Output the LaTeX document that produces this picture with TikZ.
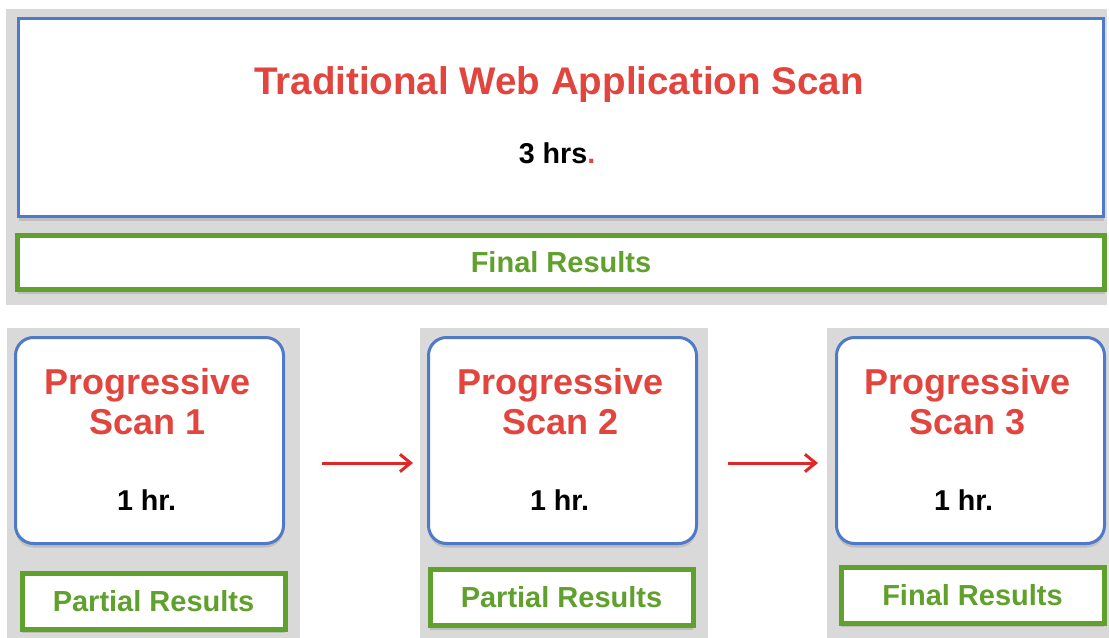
\documentclass[tikz,border=0pt]{standalone}
\usepackage{fontspec}
\setmainfont{Liberation Sans}
\usetikzlibrary{arrows.meta,shadows}

\newdimen\px \px=0.75pt

\definecolor{scanred}{RGB}{226,68,62}
\definecolor{arrowred}{RGB}{222,40,40}
\definecolor{resgreen}{RGB}{96,160,44}
\definecolor{boxblue}{RGB}{78,122,200}
\definecolor{panelgrey}{RGB}{217,217,217}

\tikzset{
    scanbox/.style={draw=boxblue, line width=3\px, fill=white, rounded corners=18\px,
        minimum width=268\px, minimum height=206\px,
        drop shadow={shadow xshift=0pt, shadow yshift=-3pt, opacity=0.3}},
    resbox/.style={draw=resgreen, line width=5\px, fill=white, text=resgreen,
        font=\fontsize{21.75}{24}\selectfont\bfseries, inner sep=0pt,
        minimum width=263\px, minimum height=56\px,
        drop shadow={shadow xshift=0pt, shadow yshift=-3pt, opacity=0.3}},
    scantitle/.style={text=scanred, font=\fontsize{27}{30}\selectfont\bfseries, align=center},
    hourtext/.style={anchor=base, font=\fontsize{21.5}{24}\selectfont\bfseries},
    flow/.style={draw=arrowred, line width=3\px, -{Straight Barb[length=8pt, width=13pt]}}
}

\begin{document}
\begin{tikzpicture}[x=0.75pt, y=-0.75pt]
    \useasboundingbox (0,0) rectangle (1109,638);
    \fill[white] (0,0) rectangle (1109,638);

    % grey backgrounds
    \fill[panelgrey] (6,9) rectangle (1107,305);
    \fill[panelgrey] (7,328) rectangle (300,638);
    \fill[panelgrey] (420,328) rectangle (708,638);
    \fill[panelgrey] (827,328) rectangle (1109,638);

    % traditional scan
    \node[scanbox, rounded corners=0pt, minimum width=1085\px, minimum height=198\px] (trad) at (561,117.5) {};
    \node[anchor=base, text=scanred, font=\fontsize{28.9}{32}\selectfont\bfseries] (tradtitle) at (559,95) {Traditional Web Application Scan};
    \node[hourtext] (tradhrs) at (557,163) {3 hrs\textcolor{scanred}{.}};
    \node[resbox, minimum width=1087\px, minimum height=54\px] (tradres) at (561,262.5) {Final Results};

    % progressive scans
    \node[scanbox] (scan1) at (149.5,440.5) {};
    \node[scanbox] (scan2) at (562.5,440.5) {};
    \node[scanbox] (scan3) at (970.5,440.5) {};

    \node[scantitle] (title1) at ([xshift=-2\px, yshift=39\px]scan1.center) {Progressive\\Scan 1};
    \node[scantitle] (title2) at ([xshift=-2\px, yshift=39\px]scan2.center) {Progressive\\Scan 2};
    \node[scantitle] (title3) at ([xshift=-3\px, yshift=39\px]scan3.center) {Progressive\\Scan 3};

    \node[hourtext] (hrs1) at ([xshift=-3\px, yshift=-69.5\px]scan1.center) {1 hr.};
    \node[hourtext] (hrs2) at ([xshift=-3\px, yshift=-69.5\px]scan2.center) {1 hr.};
    \node[hourtext] (hrs3) at ([xshift=-7\px, yshift=-69.5\px]scan3.center) {1 hr.};

    \node[resbox] (res1) at (153.5,601) {Partial Results};
    \node[resbox] (res2) at (561.5,597.5) {Partial Results};
    \node[resbox] (res3) at (972.5,595) {Final Results};

    \draw[flow] ([xshift=37\px, yshift=-22.5\px]scan1.east) -- ([xshift=-14\px, yshift=-22.5\px]scan2.west);
    \draw[flow] ([xshift=30\px, yshift=-22.5\px]scan2.east) -- ([xshift=-17\px, yshift=-22.5\px]scan3.west);
\end{tikzpicture}
\end{document}
